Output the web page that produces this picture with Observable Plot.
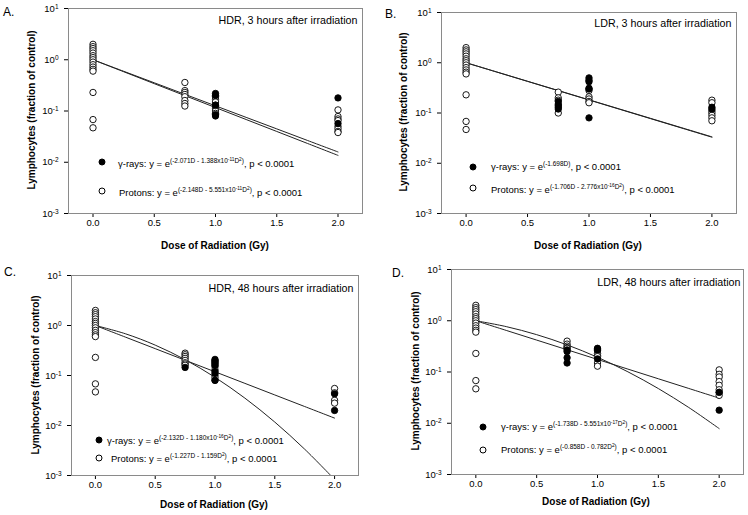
<!DOCTYPE html>
<html>
<head>
<meta charset="utf-8">
<script src="https://cdn.jsdelivr.net/npm/d3@7"></script>
<script src="https://cdn.jsdelivr.net/npm/@observablehq/plot@0.6"></script>
<style>
  html, body { margin: 0; padding: 0; background: #fff; }
  #root { position: relative; width: 748px; height: 515px; overflow: hidden; background: #fff;
          font-family: "Liberation Sans", Arial, sans-serif; color: #000; }
  .panel { position: absolute; }
  .letter { position: absolute; font-size: 12px; line-height: 12px; }
  .axt { position: absolute; font-size: 10px; font-weight: bold; line-height: 10px; white-space: nowrap; }
  .axx { transform: translate(-50%, -50%); }
  .axy { transform: translate(-50%, -50%) rotate(-90deg); }
  .leg { position: absolute; font-size: 9.5px; line-height: 10px; white-space: nowrap; transform: translateY(-50%); }
  .leg sup { font-size: 6.5px; vertical-align: 4px; line-height: 0; }
  .leg sup sup { font-size: 4.8px; vertical-align: 2px; }
  .mk { position: absolute; width: 7px; height: 7px; border-radius: 50%; border: 1px solid #000; box-sizing: border-box; transform: translate(-50%, -50%); }
</style>
</head>
<body>
<div id="root"></div>
<script>
// ---------------- data ----------------
const doseLevels = [0, 0.75, 1, 2];
const controls = [2.0, 1.8, 1.65, 1.5, 1.35, 1.2, 1.1, 1.0, 0.9, 0.8, 0.72, 0.65, 0.6, 0.23, 0.068, 0.047];

// values per dose level (aligned with doseLevels)
const A_gamma  = [[], [], [0.22, 0.2, 0.13, 0.085, 0.08], [0.18, 0.057]];
const A_proton = [controls, [0.36, 0.25, 0.23, 0.21, 0.19, 0.16, 0.14, 0.125], [0.19, 0.17, 0.15, 0.13, 0.12, 0.11, 0.1, 0.09], [0.105, 0.078, 0.07, 0.065, 0.05, 0.045, 0.04, 0.038]];
const B_gamma  = [[], [0.17, 0.15, 0.14, 0.13, 0.12], [0.5, 0.45, 0.42, 0.31, 0.3, 0.08], [0.13, 0.12]];
const B_proton = [controls, [0.26, 0.2, 0.18, 0.1], [0.28, 0.21, 0.19, 0.17, 0.16], [0.18, 0.16, 0.11, 0.1, 0.09, 0.08, 0.07]];
const C_gamma  = [[], [0.145], [0.21, 0.2, 0.19, 0.18, 0.17, 0.16, 0.12, 0.11, 0.08], [0.043, 0.02]];
const C_proton = [controls, [0.28, 0.26, 0.24, 0.22, 0.2, 0.18, 0.17, 0.16], [0.15, 0.13, 0.1, 0.09, 0.08], [0.055, 0.045, 0.032, 0.028]];
const D_gamma  = [[], [0.27, 0.25, 0.19, 0.15], [0.29, 0.28, 0.27, 0.18], [0.04, 0.018]];
const D_proton = [controls, [0.4, 0.35, 0.32, 0.3, 0.29], [0.26, 0.23, 0.21, 0.2, 0.15, 0.13], [0.11, 0.09, 0.08, 0.065, 0.055, 0.045, 0.04, 0.035]];

// fitted curves, read at these doses
const fitDoses = [0, 0.25, 0.5, 0.75, 1, 1.25, 1.5, 1.75, 2];
const A_gammaFit  = [1, 0.5959, 0.3551, 0.2116, 0.1261, 0.07514, 0.04477, 0.02667, 0.01589];
const A_protonFit = [1, 0.5845, 0.3416, 0.1997, 0.1167, 0.06823, 0.03988, 0.02331, 0.01362];
const B_gammaFit  = [1, 0.6541, 0.4278, 0.2799, 0.1831, 0.1197, 0.07832, 0.05123, 0.03352];
const B_protonFit = [1, 0.6528, 0.4261, 0.2782, 0.1816, 0.1185, 0.07738, 0.05052, 0.03298];
const C_gammaFit  = [1, 0.5868, 0.3444, 0.2021, 0.1186, 0.06961, 0.04085, 0.02397, 0.01406];
const C_protonFit = [1, 0.6844, 0.4053, 0.2076, 0.0920, 0.03527, 0.01171, 0.003357, 0.000833];
const D_gammaFit  = [1, 0.6476, 0.4194, 0.2716, 0.1759, 0.1139, 0.07376, 0.04777, 0.03094];
const D_protonFit = [1, 0.7684, 0.5355, 0.3385, 0.1940, 0.1008, 0.04752, 0.02031, 0.00787];

const xTicks = [0, 0.5, 1, 1.5, 2];
const yTicks = [1e-3, 1e-2, 1e-1, 1, 10];
const xTitle = ["Dose of Radiation (Gy)", "Dose of Radiation  (Gy)", "Dose of Radiation (Gy)", "Dose of Radiation (Gy)"];
const yTitle = "Lymphocytes (fraction of control)";
const titles = ["HDR, 3 hours after irradiation", "LDR, 3 hours after irradiation", "HDR, 48 hours after irradiation", "LDR, 48 hours after irradiation"];
const letters = ["A.", "B.", "C.", "D."];
const legendGamma = [
  'γ-rays: y = e<sup>(-2.071D - 1.388x10<sup>-11</sup>D<sup>2</sup>)</sup>, p &lt; 0.0001',
  'γ-rays: y = e<sup>(-1.698D)</sup>, p &lt; 0.0001',
  'γ-rays: y = e<sup>(-2.132D - 1.180x10<sup>-16</sup>D<sup>2</sup>)</sup>, p &lt; 0.0001',
  'γ-rays: y = e<sup>(-1.738D - 5.551x10<sup>-17</sup>D<sup>2</sup>)</sup>, p &lt; 0.0001'
];
const legendProton = [
  'Protons: y = e<sup>(-2.148D - 5.551x10<sup>-11</sup>D<sup>2</sup>)</sup>, p &lt; 0.0001',
  'Protons: y = e<sup>(-1.706D - 2.776x10<sup>-16</sup>D<sup>2</sup>)</sup>, p &lt; 0.0001',
  'Protons: y = e<sup>(-1.227D - 1.159D<sup>2</sup>)</sup>, p &lt; 0.0001',
  'Protons: y = e<sup>(-0.858D - 0.782D<sup>2</sup>)</sup>, p &lt; 0.0001'
];

// ---------------- layout ----------------
const layout = [
  {left: 0,   top: 0,   w: 374, h: 257, ml: 68, mr: 12, mt: 8,  mb: 44, xl: [215, 246], yl: [32, 110], tdx: -5, tdy: 12,
   letter: [3, 6], g: {dot: [102, 162], text: [118, 164]}, p: {dot: [102, 191], text: [119, 193]}},
  {left: 374, top: 0,   w: 374, h: 257, ml: 67, mr: 12, mt: 12, mb: 44, xl: [588, 246], yl: [404, 112], tdx: -5, tdy: 11,
   letter: [385, 8], g: {dot: [473, 167], text: [491, 167]}, p: {dot: [473, 188], text: [491, 190]}},
  {left: 0,   top: 257, w: 374, h: 258, ml: 71, mr: 16, mt: 18, mb: 40, xl: [214, 505], yl: [36, 375], tdx: -5, tdy: 13,
   letter: [4, 266], g: {dot: [99, 440], text: [107, 441]}, p: {dot: [99, 458], text: [111, 459]}},
  {left: 374, top: 257, w: 374, h: 258, ml: 77, mr: 5,  mt: 12, mb: 41, xl: [596, 502], yl: [416, 371], tdx: -3, tdy: 13,
   letter: [392, 267], g: {dot: [483, 427], text: [501, 427]}, p: {dot: [483, 450], text: [501, 450]}}
];

const series = [
  [A_gamma, A_proton, A_gammaFit, A_protonFit],
  [B_gamma, B_proton, B_gammaFit, B_protonFit],
  [C_gamma, C_proton, C_gammaFit, C_protonFit],
  [D_gamma, D_proton, D_gammaFit, D_protonFit]
];

const toPoints = (s) => doseLevels.flatMap((d, i) => s[i].map(v => ({dose: d, value: v})));
const toCurve = (vals) => fitDoses.map((d, i) => ({dose: d, value: vals[i]}));

const root = document.getElementById("root");
function addDiv(cls, x, y, html) {
  const el = document.createElement("div");
  el.className = cls;
  el.style.left = x + "px";
  el.style.top = y + "px";
  el.innerHTML = html;
  root.appendChild(el);
  return el;
}

series.forEach(([gam, pro, gFit, pFit], k) => {
  const L = layout[k];
  const chart = Plot.plot({
    width: L.w, height: L.h,
    marginLeft: L.ml, marginRight: L.mr, marginTop: L.mt, marginBottom: L.mb,
    style: {fontFamily: '"Liberation Sans", Arial, sans-serif', fontSize: "9.5px", color: "#000", background: "transparent", overflow: "visible"},
    x: {domain: [-0.2, 2.2], ticks: xTicks, tickFormat: d3.format(".1f"), label: null, tickSize: 4, tickPadding: 2, line: true},
    y: {type: "log", domain: [1e-3, 10], ticks: yTicks, tickFormat: d => "10^" + Math.round(Math.log10(d)),
        label: null, tickSize: 4, tickPadding: 6, line: true},
    marks: [
      Plot.frame({stroke: "#8a8a8a", strokeWidth: 1}),
      Plot.line(toCurve(gFit), {x: "dose", y: "value", stroke: "#222", strokeWidth: 1, curve: "catmull-rom", clip: true}),
      Plot.line(toCurve(pFit), {x: "dose", y: "value", stroke: "#222", strokeWidth: 1, curve: "catmull-rom", clip: true}),
      Plot.dot(toPoints(pro), {x: "dose", y: "value", r: 3.2, fill: "white", stroke: "#000", strokeWidth: 0.9}),
      Plot.dot(toPoints(gam), {x: "dose", y: "value", r: 3.2, fill: "#000", stroke: "#000", strokeWidth: 0.9}),
      Plot.text([titles[k]], {frameAnchor: "top-right", dx: L.tdx, dy: L.tdy, lineAnchor: "middle", textAnchor: "end", fontSize: 10.7})
    ]
  });
  // superscript exponents on y tick labels
  d3.select(chart).selectAll('g[aria-label="y-axis tick label"] text').each(function() {
    const t = d3.select(this);
    const m = t.text().match(/^10\^(-?\d+)$/);
    if (!m) return;
    t.text("");
    t.append("tspan").text("10");
    t.append("tspan").attr("dy", "-0.45em").attr("font-size", "6.5px").text(m[1]);
  });

  const wrap = document.createElement("div");
  wrap.className = "panel";
  wrap.style.left = L.left + "px";
  wrap.style.top = L.top + "px";
  wrap.appendChild(chart);
  root.appendChild(wrap);

  addDiv("letter", L.letter[0], L.letter[1], letters[k]);
  addDiv("axt axx", L.xl[0], L.xl[1], xTitle[k]);
  addDiv("axt axy", L.yl[0], L.yl[1], yTitle);

  [["g", legendGamma[k], "#000"], ["p", legendProton[k], "#fff"]].forEach(([key, html, fill]) => {
    const e = L[key];
    const mk = addDiv("mk", e.dot[0], e.dot[1], "");
    mk.style.background = fill;
    addDiv("leg", e.text[0], e.text[1], html);
  });
});
</script>
</body>
</html>
